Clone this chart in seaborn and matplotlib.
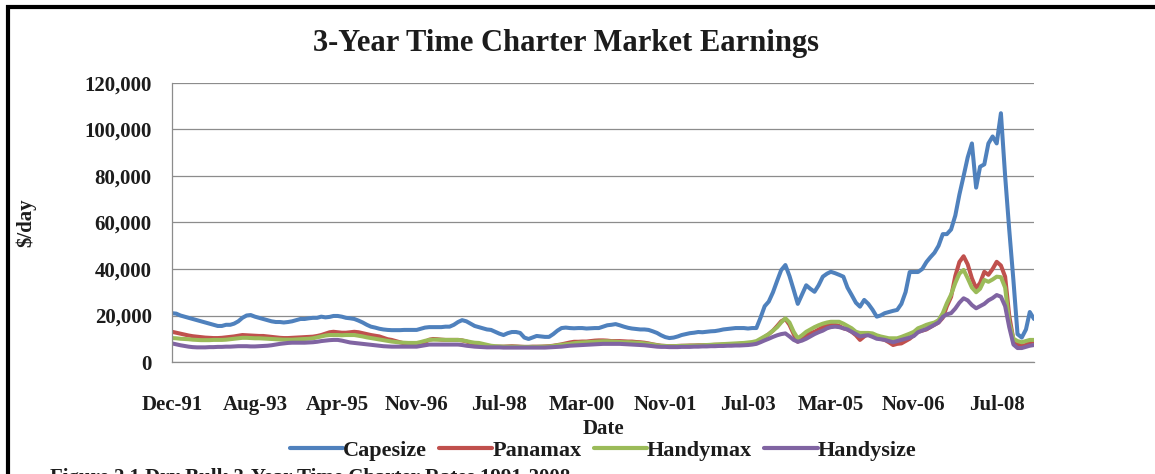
import numpy as np
import pandas as pd
import matplotlib
matplotlib.use("Agg")
import matplotlib.pyplot as plt
from matplotlib.lines import Line2D
from matplotlib.ticker import MultipleLocator, FuncFormatter
import seaborn as sns

# ---- data: 3-year time charter earnings, $ thousand per day, monthly from Dec-91 ----
start_month = "1991-12-01"
series_names = ["Capesize", "Panamax", "Handymax", "Handysize"]
series_colors = ["#4F81BD", "#C0504D", "#9BBB59", "#8064A2"]
tick_labels = ["Dec-91", "Aug-93", "Apr-95", "Nov-96", "Jul-98", "Mar-00",
               "Nov-01", "Jul-03", "Mar-05", "Nov-06", "Jul-08"]

capesize = [
    21.0, 20.8, 20.0, 19.5, 19.0, 18.5, 18.0, 17.5, 17.0, 16.5, 16.0, 15.5,
    15.5, 16.0, 16.0, 16.5, 17.5, 19.0, 20.0, 20.2, 19.5, 19.0, 18.5, 18.0,
    17.5, 17.2, 17.2, 17.0, 17.2, 17.5, 18.0, 18.5, 18.5, 18.8, 19.0, 19.0,
    19.5, 19.2, 19.4, 19.8, 19.8, 19.5, 19.0, 18.8, 18.5, 17.8, 17.0, 16.0,
    15.2, 14.8, 14.3, 14.0, 13.8, 13.7, 13.7, 13.7, 13.8, 13.8, 13.8, 13.8,
    14.3, 14.8, 15.0, 15.0, 15.0, 15.0, 15.2, 15.2, 16.0, 17.2, 18.0, 17.5,
    16.5, 15.5, 15.0, 14.5, 14.0, 13.8, 13.0, 12.2, 11.6, 12.4, 12.9, 12.9,
    12.5, 10.5, 9.9, 10.5, 11.2, 11.0, 10.8, 10.8, 12.0, 13.5, 14.6, 14.8,
    14.6, 14.5, 14.6, 14.6, 14.4, 14.5, 14.6, 14.6, 15.2, 15.8, 16.0, 16.3,
    15.8, 15.2, 14.7, 14.4, 14.2, 14.0, 14.0, 13.8, 13.2, 12.5, 11.5, 10.7,
    10.3, 10.5, 11.0, 11.6, 12.0, 12.4, 12.6, 12.9, 12.8, 13.0, 13.2, 13.3,
    13.6, 14.0, 14.2, 14.4, 14.6, 14.6, 14.6, 14.4, 14.6, 14.6, 19.0, 24.0,
    26.0, 30.0, 35.0, 39.5, 41.7, 37.0, 31.0, 25.0, 29.0, 33.0, 31.5, 30.2,
    33.0, 36.7, 38.0, 38.8, 38.2, 37.5, 36.7, 32.0, 28.8, 25.5, 23.8, 26.7,
    25.0, 22.5, 19.5, 20.0, 21.0, 21.5, 22.0, 22.4, 25.0, 30.1, 38.7, 38.7,
    38.7, 40.0, 43.0, 45.0, 47.0, 50.0, 55.0, 55.0, 57.0, 63.0, 72.0, 80.0,
    88.0, 94.0, 75.0, 84.0, 85.0, 94.0, 97.0, 94.0, 107.0, 80.0, 57.0, 35.0,
    12.0, 10.5, 14.0, 21.5, 18.5,
]

panamax = [
    13.0, 12.6, 12.2, 11.8, 11.4, 11.1, 10.9, 10.7, 10.5, 10.4, 10.3, 10.3,
    10.4, 10.6, 10.8, 11.0, 11.3, 11.6, 11.5, 11.4, 11.3, 11.2, 11.2, 11.0,
    10.8, 10.6, 10.4, 10.3, 10.3, 10.4, 10.5, 10.6, 10.7, 10.8, 10.9, 11.2,
    11.6, 12.2, 12.8, 13.0, 12.8, 12.6, 12.6, 12.8, 13.0, 12.8, 12.4, 12.0,
    11.6, 11.3, 11.0, 10.4, 9.8, 9.5, 9.0, 8.5, 8.0, 7.6, 7.4, 7.3,
    7.8, 8.6, 9.6, 9.9, 9.8, 9.6, 9.5, 9.5, 9.5, 9.5, 9.3, 8.8,
    8.2, 7.6, 7.3, 7.0, 6.8, 6.7, 6.6, 6.6, 6.6, 6.7, 6.8, 6.7,
    6.6, 6.5, 6.5, 6.6, 6.6, 6.6, 6.7, 6.8, 7.0, 7.3, 7.6, 8.0,
    8.4, 8.7, 8.7, 8.8, 8.8, 9.0, 9.2, 9.3, 9.3, 9.2, 9.0, 9.0,
    9.0, 8.9, 8.8, 8.8, 8.6, 8.5, 8.3, 8.0, 7.6, 7.3, 7.0, 6.9,
    6.8, 6.8, 6.9, 7.0, 7.0, 7.1, 7.1, 7.2, 7.2, 7.3, 7.3, 7.4,
    7.4, 7.5, 7.5, 7.6, 7.7, 7.8, 7.9, 8.0, 8.2, 8.5, 9.5, 10.8,
    12.0, 13.5, 15.5, 17.5, 18.5, 16.0, 12.0, 8.7, 10.0, 11.5, 12.5, 13.0,
    14.0, 15.0, 15.9, 16.0, 16.0, 15.5, 14.5, 14.0, 13.0, 11.5, 9.5, 11.0,
    12.3, 11.5, 10.5, 10.0, 9.5, 8.5, 7.3, 7.8, 8.0, 9.0, 10.0, 11.5,
    13.0, 13.5, 14.0, 15.0, 16.0, 17.0, 19.0, 24.0, 28.0, 37.0, 43.0, 45.5,
    42.0, 36.0, 31.7, 34.0, 38.8, 37.5, 40.0, 43.1, 41.5, 36.7, 20.0, 9.5,
    7.5, 7.0, 7.3, 8.5, 8.8,
]

handymax = [
    10.3, 10.2, 10.0, 9.9, 9.8, 9.6, 9.5, 9.4, 9.4, 9.4, 9.5, 9.5,
    9.5, 9.6, 9.8, 10.0, 10.2, 10.4, 10.4, 10.3, 10.2, 10.2, 10.1, 10.0,
    9.9, 9.8, 9.7, 9.6, 9.6, 9.6, 9.7, 9.8, 9.9, 10.0, 10.2, 10.6,
    11.0, 11.4, 11.6, 11.6, 11.6, 11.5, 11.6, 11.6, 11.6, 11.3, 11.0, 10.6,
    10.3, 10.0, 9.7, 9.4, 9.1, 8.8, 8.6, 8.4, 8.3, 8.2, 8.2, 8.2,
    8.6, 9.1, 9.5, 9.6, 9.6, 9.6, 9.5, 9.5, 9.5, 9.5, 9.3, 9.0,
    8.6, 8.3, 8.2, 7.8, 7.4, 7.0, 6.8, 6.7, 6.6, 6.6, 6.6, 6.6,
    6.5, 6.5, 6.5, 6.5, 6.5, 6.6, 6.6, 6.7, 6.9, 7.2, 7.4, 7.6,
    7.8, 8.1, 8.3, 8.4, 8.5, 8.6, 8.7, 8.8, 8.9, 8.9, 8.8, 8.7,
    8.6, 8.5, 8.5, 8.4, 8.3, 8.2, 8.0, 7.8, 7.5, 7.2, 7.0, 6.9,
    6.8, 6.8, 6.9, 6.9, 7.0, 7.0, 7.1, 7.1, 7.2, 7.3, 7.4, 7.5,
    7.6, 7.7, 7.8, 7.9, 8.0, 8.1, 8.2, 8.4, 8.6, 9.0, 10.0, 11.0,
    12.0, 13.5, 15.0, 17.0, 18.8, 17.0, 13.0, 10.2, 11.5, 13.0, 14.0, 15.0,
    15.8, 16.5, 17.0, 17.3, 17.3, 17.3, 16.5, 15.5, 14.5, 13.0, 12.5, 12.5,
    12.5, 12.3, 11.5, 11.0, 10.6, 10.2, 10.2, 10.2, 10.8, 11.5, 12.2, 13.0,
    14.5, 15.2, 16.0, 16.5, 17.0, 18.0, 21.0, 25.3, 29.0, 34.0, 38.0, 39.6,
    36.0, 32.0, 30.0, 31.5, 35.3, 34.5, 35.5, 36.7, 36.5, 32.0, 17.0, 10.0,
    9.0, 8.5, 9.0, 9.5, 9.5,
]

handysize = [
    8.0, 7.6, 7.2, 6.9, 6.6, 6.4, 6.3, 6.3, 6.3, 6.4, 6.4, 6.5,
    6.5, 6.6, 6.6, 6.7, 6.8, 6.8, 6.8, 6.7, 6.7, 6.8, 6.9, 7.0,
    7.2, 7.5, 7.8, 8.0, 8.2, 8.3, 8.3, 8.3, 8.3, 8.4, 8.5, 8.7,
    9.0, 9.2, 9.4, 9.5, 9.5, 9.2, 8.8, 8.4, 8.2, 8.0, 7.8, 7.6,
    7.4, 7.2, 7.0, 6.8, 6.7, 6.6, 6.6, 6.6, 6.6, 6.6, 6.6, 6.6,
    6.9, 7.2, 7.5, 7.5, 7.5, 7.5, 7.5, 7.5, 7.5, 7.5, 7.3, 7.0,
    6.8, 6.6, 6.5, 6.4, 6.3, 6.3, 6.3, 6.3, 6.2, 6.2, 6.2, 6.2,
    6.2, 6.2, 6.2, 6.2, 6.2, 6.2, 6.2, 6.3, 6.4, 6.5, 6.6, 6.8,
    7.0, 7.1, 7.2, 7.3, 7.4, 7.5, 7.6, 7.7, 7.8, 7.8, 7.8, 7.8,
    7.8, 7.7, 7.6, 7.5, 7.4, 7.3, 7.2, 7.0, 6.8, 6.6, 6.5, 6.5,
    6.4, 6.4, 6.4, 6.5, 6.5, 6.5, 6.6, 6.6, 6.7, 6.7, 6.8, 6.8,
    6.9, 6.9, 7.0, 7.0, 7.1, 7.1, 7.2, 7.3, 7.5, 7.8, 8.5, 9.3,
    10.0, 10.8, 11.5, 12.0, 12.3, 11.0, 9.5, 8.7, 9.2, 10.0, 11.0, 12.0,
    12.8, 13.5, 14.5, 15.0, 15.2, 15.0, 14.5, 14.0, 13.0, 12.0, 11.0, 11.3,
    11.5, 10.8, 10.0, 9.8, 9.5, 9.0, 8.5, 9.0, 9.5, 10.0, 10.5, 11.2,
    12.8, 13.5, 14.2, 15.0, 16.0, 17.0, 19.4, 20.5, 21.0, 23.0, 25.5, 27.4,
    26.5, 24.5, 23.1, 24.0, 25.0, 26.5, 27.5, 28.8, 28.1, 24.0, 15.0, 7.5,
    6.0, 6.0, 6.5, 7.0, 7.3,
]

# ---- long-form table for seaborn ----
dates = pd.date_range(start_month, periods=len(capesize), freq="MS")
frames = []
for name, vals in zip(series_names, [capesize, panamax, handymax, handysize]):
    frames.append(pd.DataFrame({
        "Date": dates,
        "Earnings": np.asarray(vals) * 1000.0,
        "Series": name,
    }))
df = pd.concat(frames, ignore_index=True)

sns.set_theme(style="white")
plt.rcParams["font.family"] = ["Liberation Serif", "DejaVu Serif"]
text_color = "#1c1c1c"
grid_color = "#8c8c8c"

W, H = 1155, 474
fig = plt.figure(figsize=(W / 100, H / 100), dpi=100)
ax = fig.add_axes([172 / W, 1 - 362 / H, (1034 - 172) / W, (362 - 83) / H])

sns.lineplot(data=df, x="Date", y="Earnings", hue="Series",
             hue_order=series_names, palette=series_colors,
             linewidth=2.9, ax=ax)
for ln in ax.get_lines():
    ln.set_solid_joinstyle("round")
    ln.set_solid_capstyle("round")

# axes, ticks and grid
ax.set_xlim(dates[0], dates[-1])
ax.set_ylim(0, 120000)
ax.yaxis.set_major_locator(MultipleLocator(20000))
ax.yaxis.set_major_formatter(FuncFormatter(lambda v, p: f"{v:,.0f}"))
tick_dates = pd.to_datetime(tick_labels, format="%b-%y")
ax.set_xticks(tick_dates)
ax.set_xticklabels(tick_labels)

ax.yaxis.grid(True, color=grid_color, linewidth=0.9)
ax.xaxis.grid(False)
ax.set_axisbelow(True)
for side in ["top", "right"]:
    ax.spines[side].set_visible(False)
for side in ["left", "bottom"]:
    ax.spines[side].set_color(grid_color)
    ax.spines[side].set_linewidth(0.9)

ax.tick_params(axis="y", direction="out", length=3.5, width=0.8, color=grid_color,
               labelsize=15, labelcolor=text_color, pad=11)
ax.tick_params(axis="x", direction="out", length=3.5, width=0.8, color=grid_color,
               labelsize=15, labelcolor=text_color, pad=20)
for lbl in ax.get_xticklabels() + ax.get_yticklabels():
    lbl.set_fontweight("bold")

ax.set_xlabel("Date", fontsize=15, fontweight="bold", color=text_color)
ax.xaxis.set_label_coords(0.5, -0.205)
ax.set_ylabel(r"\$/day", fontsize=15, fontweight="bold", color=text_color)
ax.yaxis.set_label_coords(-0.157, 0.5)

# legend below the axis title
sns.move_legend(ax, "center", bbox_to_anchor=(0.5, -0.317), ncol=4, title=None,
                frameon=False, handlelength=2.4, handletextpad=0.0,
                columnspacing=0.55, fontsize=16)
leg = ax.get_legend()
for h in leg.get_lines():
    h.set_linewidth(3.0)
for t in leg.get_texts():
    t.set_fontweight("bold")
    t.set_color(text_color)

# title
fig.text(566 / W, 1 - 43 / H, "3-Year Time Charter Market Earnings",
         ha="center", va="center", fontsize=22, fontweight="bold", color=text_color)

# figure caption along the lower edge of the page
fig.text(50 / W, 1 - 483 / H,
         "Figure 2.1 Dry Bulk 3-Year Time Charter Rates 1991-2008",
         ha="left", va="baseline", fontsize=15, fontweight="bold", color=text_color)

# page frame: heavy rule along the top and left edges
fig.add_artist(Line2D([6 / W, 1.0], [1 - 7 / H, 1 - 7 / H], transform=fig.transFigure,
                      color="black", linewidth=3.0, solid_capstyle="butt"))
fig.add_artist(Line2D([8 / W, 8 / W], [0.0, 1 - 5 / H], transform=fig.transFigure,
                      color="black", linewidth=3.0, solid_capstyle="butt"))

fig.savefig("out.png", dpi=100, facecolor="white")
